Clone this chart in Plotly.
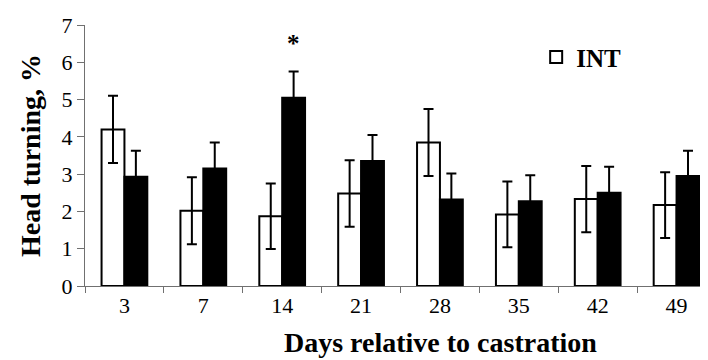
import plotly.graph_objects as go

days = ["3", "7", "14", "21", "28", "35", "42", "49"]
int_vals = [4.20, 2.02, 1.87, 2.48, 3.85, 1.92, 2.33, 2.17]
int_err = [0.90, 0.90, 0.88, 0.89, 0.90, 0.88, 0.89, 0.88]
other_vals = [2.93, 3.15, 5.05, 3.35, 2.32, 2.27, 2.50, 2.95]
other_err = [0.70, 0.70, 0.70, 0.70, 0.70, 0.70, 0.70, 0.68]
y_ticks = [0, 1, 2, 3, 4, 5, 6, 7]

font = "Liberation Serif, Times New Roman, serif"
axis_col = "#707070"

fig = go.Figure()
fig.add_trace(go.Bar(
    x=days, y=int_vals, name="<b>INT</b>",
    marker=dict(color="white", line=dict(color="black", width=2)),
    error_y=dict(type="data", array=int_err, visible=True, color="black", thickness=2, width=5),
))
fig.add_trace(go.Bar(
    x=days, y=other_vals, name="", showlegend=False,
    marker=dict(color="black", line=dict(color="black", width=2)),
    error_y=dict(type="data", array=other_err, visible=True, color="black", thickness=2, width=5),
))

fig.add_annotation(x=2, y=6.5, text="<b>*</b>", showarrow=False, xshift=11,
                   font=dict(family=font, size=25, color="black"))

# x-axis title (centred as in the original, whose plot area extended past the crop)
fig.add_annotation(xref="paper", yref="paper", x=0.564, y=-0.218,
                   xanchor="center", yanchor="middle", showarrow=False,
                   text="<b>Days relative to castration</b>",
                   font=dict(family=font, size=28, color="black"))

# page body has an 8px default margin; margins compensate for it
fig.update_layout(
    width=708, height=360,
    margin=dict(l=77, r=0, t=17, b=82),
    plot_bgcolor="white", paper_bgcolor="white",
    barmode="group", bargap=0.42, bargroupgap=0,
    font=dict(family=font, size=22, color="black"),
    showlegend=True,
    legend=dict(x=0.715, y=0.965, xanchor="left", yanchor="top",
                font=dict(family=font, size=25, color="black"),
                bgcolor="rgba(0,0,0,0)", itemwidth=30),
    xaxis=dict(
        type="category", range=[-0.5, 7.5], automargin=False,
        showline=True, linecolor=axis_col, linewidth=1,
        ticks="outside", tickson="boundaries", ticklen=6, tickcolor=axis_col,
        tickfont=dict(family=font, size=22),
    ),
    yaxis=dict(
        range=[0, 7], tickvals=y_ticks, automargin=False,
        showline=True, linecolor=axis_col, linewidth=1,
        ticks="outside", ticklen=7, tickcolor=axis_col,
        showgrid=False, zeroline=False,
        tickfont=dict(family=font, size=22),
        title=dict(text="<b>Head turning, %</b>", font=dict(family=font, size=28), standoff=12),
    ),
)
fig.write_html("out.html")
